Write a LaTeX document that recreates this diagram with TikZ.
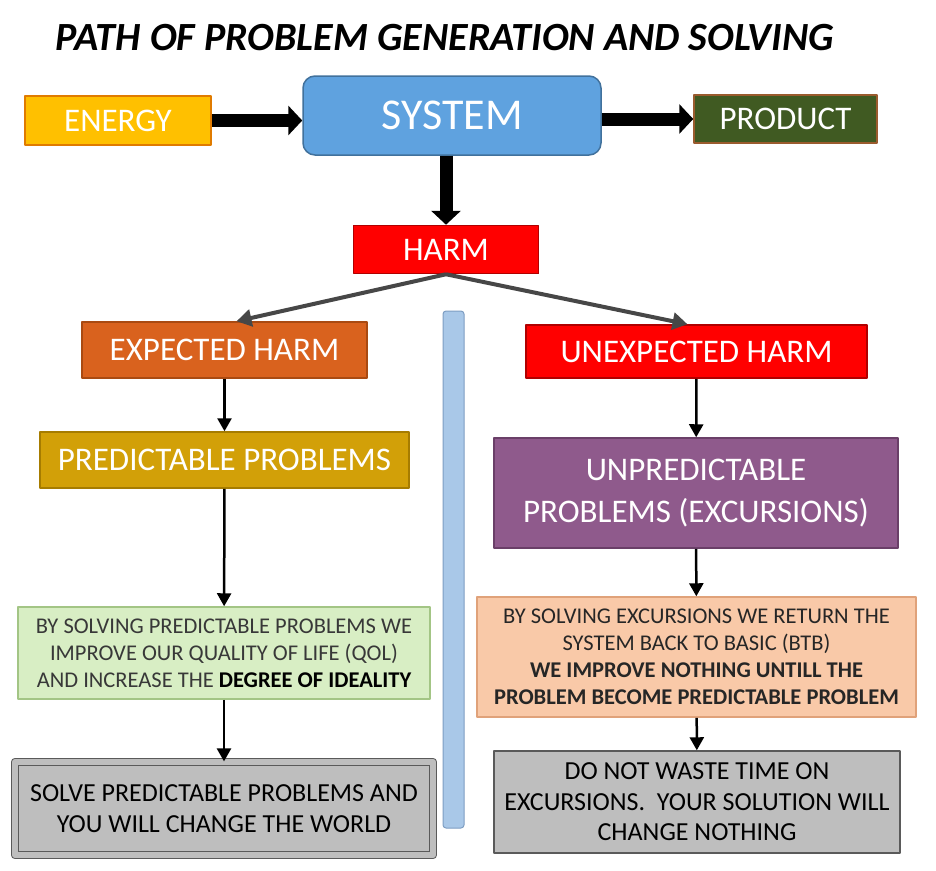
\documentclass[tikz,border=0pt]{standalone}
\usepackage{fontspec}
\setmainfont{Carlito}
\usetikzlibrary{arrows.meta}

\definecolor{energyfill}{HTML}{FFC000}
\definecolor{energyline}{HTML}{E07B00}
\definecolor{systemfill}{HTML}{5FA2DF}
\definecolor{systemline}{HTML}{41719C}
\definecolor{productfill}{HTML}{405A22}
\definecolor{productline}{HTML}{9A5B2E}
\definecolor{harmfill}{HTML}{FF0000}
\definecolor{harmline}{HTML}{B00000}
\definecolor{expectfill}{HTML}{D9621E}
\definecolor{expectline}{HTML}{A94A12}
\definecolor{predictfill}{HTML}{D2A008}
\definecolor{predictline}{HTML}{A67C00}
\definecolor{unpredfill}{HTML}{8F5A8C}
\definecolor{unpredline}{HTML}{6A3F68}
\definecolor{idealfill}{HTML}{D8EEC4}
\definecolor{idealline}{HTML}{A3C585}
\definecolor{btbfill}{HTML}{F9C9A8}
\definecolor{btbline}{HTML}{E0A27A}
\definecolor{worldfill}{HTML}{BEBEBE}
\definecolor{worldline}{HTML}{5A5A5A}
\definecolor{barfill}{HTML}{A9C8E8}
\definecolor{barline}{HTML}{7D9DC2}

\begin{document}
\begin{tikzpicture}[x=1pt, y=-1pt, line join=round,
    flowbox/.style={draw, line width=1.5pt, inner sep=0pt, align=center,
        text=white, font=\fontsize{33}{36}\selectfont},
    notebox/.style={flowbox, font=\fontsize{22.5}{27}\selectfont},
    endbox/.style={flowbox, fill=worldfill, draw=worldline, text=black,
        font=\fontsize{26}{30.5}\selectfont},
    bigarrow/.style={line width=13pt, -{Triangle[length=14pt, width=29pt]}},
    slantarrow/.style={line width=4pt, draw=black!72, -{Triangle[length=15pt, width=17pt]}},
    downarrow/.style={line width=2.5pt, -{Triangle[length=13pt, width=14pt]}}]

    \useasboundingbox (0,0) rectangle (936,870);

    % ------------------------------------------------------------------
    % 1. Title
    % ------------------------------------------------------------------
    \node (title) at (445, 38)
        {\fontsize{40}{44}\selectfont\bfseries\itshape PATH OF PROBLEM GENERATION AND SOLVING};

    % ------------------------------------------------------------------
    % 2. Top row: energy -> system -> product
    % ------------------------------------------------------------------
    \node[flowbox, fill=energyfill, draw=energyline, minimum width=186pt, minimum height=49pt]
        (energy) at (118, 120.5) {ENERGY};
    \node[flowbox, fill=systemfill, draw=systemline, rounded corners=12pt,
        minimum width=298pt, minimum height=79pt, font=\fontsize{44}{48}\selectfont]
        (system) at (452, 115.5) {SYSTEM};
    \node[flowbox, fill=productfill, draw=productline, minimum width=183pt, minimum height=48pt]
        (product) at (785.5, 119) {PRODUCT};

    \draw[bigarrow] (energy.east) -- (energy.east -| system.west);
    \draw[bigarrow] (system.east |- product.west) -- (product.west);

    % ------------------------------------------------------------------
    % 3. Harm and its two branches
    % ------------------------------------------------------------------
    \node[flowbox, fill=harmfill, draw=harmline, minimum width=185pt, minimum height=48pt]
        (harm) at (446, 249.5) {HARM};
    \draw[bigarrow] (harm.north |- system.south) -- (harm.north);

    \node[flowbox, fill=expectfill, draw=expectline, minimum width=285pt, minimum height=56pt]
        (expected) at (224.5, 350) {EXPECTED HARM};
    \node[flowbox, fill=harmfill, draw=harmline, minimum width=341pt, minimum height=53pt]
        (unexpected) at (696.5, 351.5) {UNEXPECTED HARM};

    \draw[slantarrow] (harm.south) -- ([xshift=12pt]expected.north);
    \draw[slantarrow] (harm.south) -- ([xshift=-9pt]unexpected.north);

    % ------------------------------------------------------------------
    % 4. Divider between the two columns
    % ------------------------------------------------------------------
    \filldraw[fill=barfill, draw=barline, line width=1pt, rounded corners=3pt]
        (443, 311) rectangle (464, 828);

    % ------------------------------------------------------------------
    % 5. Left column: predictable problems
    % ------------------------------------------------------------------
    \node[flowbox, fill=predictfill, draw=predictline, minimum width=369pt, minimum height=56pt]
        (predictable) at (224.5, 460) {PREDICTABLE PROBLEMS};
    \node[notebox, fill=idealfill, draw=idealline, text=black!78, minimum width=412pt, minimum height=92pt]
        (ideal) at (224, 653)
        {BY SOLVING PREDICTABLE PROBLEMS WE\\
         IMPROVE OUR QUALITY OF LIFE (QOL)\\
         AND INCREASE THE {\color{black}\bfseries DEGREE OF IDEALITY}};
    \node[endbox, double=worldfill, double distance=6pt, line width=1.2pt,
        minimum width=418pt, minimum height=93pt]
        (world) at (224, 808.5)
        {SOLVE PREDICTABLE PROBLEMS AND\\ YOU WILL CHANGE THE WORLD};

    \draw[downarrow] (expected) -- (predictable);
    \draw[downarrow] (predictable) -- (ideal);
    \draw[downarrow] (ideal) -- (world);

    % ------------------------------------------------------------------
    % 6. Right column: unpredictable problems (excursions)
    % ------------------------------------------------------------------
    \node[flowbox, fill=unpredfill, draw=unpredline, minimum width=404pt, minimum height=110pt,
        font=\fontsize{33}{42}\selectfont]
        (unpredictable) at (696, 493) {UNPREDICTABLE\\ PROBLEMS (EXCURSIONS)};
    \node[notebox, fill=btbfill, draw=btbline, text=black!85, minimum width=439pt, minimum height=120pt]
        (btb) at (696.5, 657)
        {BY SOLVING EXCURSIONS WE RETURN THE\\
         SYSTEM BACK TO BASIC (BTB)\\
         \textbf{WE IMPROVE NOTHING UNTILL THE}\\
         \textbf{PROBLEM BECOME PREDICTABLE PROBLEM}};
    \node[endbox, minimum width=406pt, minimum height=102pt]
        (nothing) at (697, 802)
        {DO NOT WASTE TIME ON\\ EXCURSIONS.~~YOUR SOLUTION WILL\\ CHANGE NOTHING};

    \draw[downarrow] (unexpected) -- (unpredictable);
    \draw[downarrow] (unpredictable) -- (btb);
    \draw[downarrow] (btb) -- (nothing);

\end{tikzpicture}
\end{document}
